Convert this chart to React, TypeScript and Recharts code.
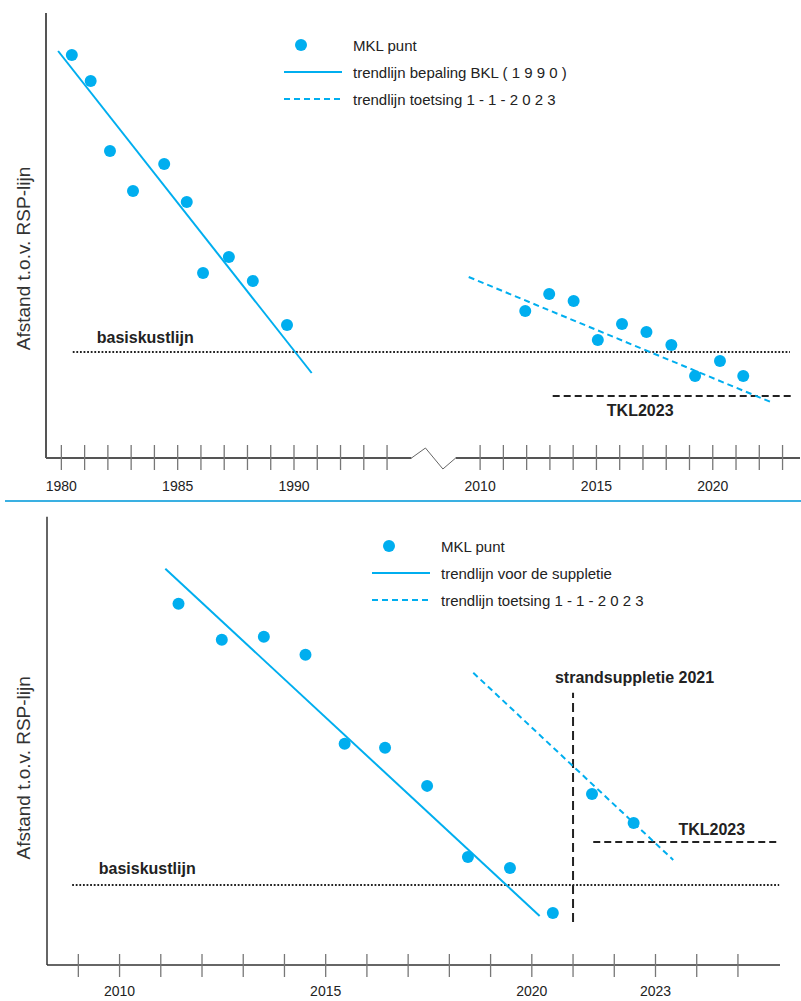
import React from "react";
import {
  ComposedChart,
  Scatter,
  Line,
  XAxis,
  YAxis,
  ReferenceLine,
  Legend,
} from "recharts";

const BLUE = "#00AEEF";
const INK = "#222";
const AXIS = "#555";
const FONT = "'Liberation Sans', Arial, Helvetica, sans-serif";

// ---- upper chart: BKL 1990 + toetsing 2023 (x axis broken between 1994 and 2010)
const topYears = [
  1980.45, 1981.26, 1982.09, 1983.08, 1984.42, 1985.39, 1986.09, 1987.2, 1988.23, 1989.7,
  2011.94, 2012.97, 2014.02, 2015.06, 2016.1, 2017.15, 2018.22, 2019.24, 2020.31, 2021.31,
];
const topDistances = [
  403, 377, 307, 267, 294, 256, 185, 201, 177, 133,
  147, 164, 157, 118, 134, 126, 113, 82, 97, 82,
];
const bklTrendYears = [1979.86, 1990.76];
const bklTrendDistances = [407, 85];
const topTestYears = [2009.51, 2022.49];
const topTestDistances = [181, 56];
const topBasisYears = [1980.49, 2023.32];
const topBasis = 106;
const topTklYears = [2013.12, 2023.35];
const topTkl = 62;
const topTickYears = [
  1980, 1981, 1982, 1983, 1984, 1985, 1986, 1987, 1988, 1989, 1990, 1991, 1992, 1993, 1994,
  2010, 2011, 2012, 2013, 2014, 2015, 2016, 2017, 2018, 2019, 2020, 2021, 2022, 2023,
];
const topLabelYears = [1980, 1985, 1990, 2010, 2015, 2020];
const YEARS_CUT = 12;
// zigzag of the axis break, in plotted years / distance units
const breakMark = [
  { x: 1995.05, y: 0 },
  { x: 1995.65, y: 10 },
  { x: 1996.4, y: -11 },
  { x: 1996.95, y: 0 },
];

// ---- lower chart: trend before the 2021 beach nourishment
const bottomYears = [
  2011.43, 2012.48, 2013.5, 2014.51, 2015.46, 2016.44, 2017.46, 2018.45, 2019.47, 2020.51,
  2021.46, 2022.47,
];
const bottomDistances = [361, 325, 328, 310, 221, 217, 179, 108, 97, 52, 171, 142];
const preTrendYears = [2011.11, 2020.19];
const preTrendDistances = [396, 49];
const bottomTestYears = [2018.58, 2023.43];
const bottomTestDistances = [292, 105];
const bottomBasisYears = [2008.85, 2026.0];
const bottomBasis = 80;
const nourishmentYear = 2021;
const nourishmentRange = [43, 272];
const bottomTklYears = [2021.49, 2026.0];
const bottomTkl = 123;
const bottomTickYears = [
  2009, 2010, 2011, 2012, 2013, 2014, 2015, 2016, 2017, 2018, 2019, 2020, 2021, 2022, 2023,
  2024, 2025,
];
const bottomLabelYears = [2010, 2015, 2020, 2023];

const topLegend = [
  { kind: "dot", label: "MKL punt" },
  { kind: "solid", label: "trendlijn bepaling BKL ( 1 9 9 0 )" },
  { kind: "dashed", label: "trendlijn toetsing 1 - 1 - 2 0 2 3" },
];
const bottomLegend = [
  { kind: "dot", label: "MKL punt" },
  { kind: "solid", label: "trendlijn voor de suppletie" },
  { kind: "dashed", label: "trendlijn toetsing 1 - 1 - 2 0 2 3" },
];

const toTop = (year: number) => (year >= 2000 ? year - YEARS_CUT : year);
const fromTop = (x: number) => Math.round(x >= 1996 ? x + YEARS_CUT : x);
const same = (x: number) => Math.round(x);

const pairs = (xs: number[], ys: number[], fx = (v: number) => v) =>
  xs.map((x, i) => ({ x: fx(x), y: ys[i] }));

const topPoints = pairs(topYears, topDistances, toTop);
const bklTrend = pairs(bklTrendYears, bklTrendDistances, toTop);
const topTest = pairs(topTestYears, topTestDistances, toTop);
const bottomPoints = pairs(bottomYears, bottomDistances);
const preTrend = pairs(preTrendYears, preTrendDistances);
const bottomTest = pairs(bottomTestYears, bottomTestDistances);

const Dot = (p: any) => <circle cx={p.cx} cy={p.cy} r={6} fill={BLUE} />;

const YearTick = ({ x, y, payload, labels, toYear, up, down, gap }: any) => {
  const year = toYear(payload.value);
  return (
    <g>
      <line x1={x} x2={x} y1={y - up} y2={y + down} stroke="#777" strokeWidth={1.3} />
      {labels.includes(year) && (
        <text
          x={x}
          y={y + gap}
          textAnchor="middle"
          dominantBaseline="central"
          fontSize={14}
          fill={INK}
          fontFamily={FONT}
        >
          {year}
        </text>
      )}
    </g>
  );
};

const AxisTitle = ({ viewBox, shift }: any) => {
  const cx = viewBox.x + viewBox.width / 2;
  const cy = viewBox.y + viewBox.height / 2 + shift;
  return (
    <text
      x={cx}
      y={cy}
      transform={`rotate(-90 ${cx} ${cy})`}
      textAnchor="middle"
      dominantBaseline="central"
      fontSize={19}
      fill="#333"
      fontFamily={FONT}
    >
      Afstand t.o.v. RSP-lijn
    </text>
  );
};

const NoteLabel = ({ viewBox, text, dx, dy, anchor = "start" }: any) => (
  <text
    x={viewBox.x + dx}
    y={viewBox.y + dy}
    textAnchor={anchor}
    dominantBaseline="central"
    fontSize={16}
    fontWeight="bold"
    fill={INK}
    fontFamily={FONT}
  >
    {text}
  </text>
);

const LegendBox = ({ items }: { items: { kind: string; label: string }[] }) => (
  <div style={{ fontFamily: FONT, fontSize: 15, color: INK }}>
    {items.map((item) => (
      <div key={item.label} style={{ display: "flex", alignItems: "center", height: 27 }}>
        <svg width={58} height={14}>
          {item.kind === "dot" ? (
            <circle cx={17} cy={7} r={6} fill={BLUE} />
          ) : (
            <line
              x1={0}
              x2={58}
              y1={7}
              y2={7}
              stroke={BLUE}
              strokeWidth={2}
              strokeDasharray={item.kind === "dashed" ? "6 4" : undefined}
            />
          )}
        </svg>
        <span style={{ marginLeft: 11, whiteSpace: "pre" }}>{item.label}</span>
      </div>
    ))}
  </div>
);

const TopChart = () => (
  <ComposedChart width={801} height={500} margin={{ top: 13, right: 1, bottom: 0, left: 0 }}>
    <XAxis
      dataKey="x"
      type="number"
      domain={[1979.34, 2011.75]}
      allowDataOverflow
      ticks={topTickYears.map(toTop)}
      interval={0}
      height={42}
      axisLine={false}
      tickLine={false}
      tickSize={0}
      tickMargin={0}
      tick={<YearTick labels={topLabelYears} toYear={fromTop} up={13} down={12} gap={28} />}
    />
    <YAxis
      type="number"
      domain={[0, 445]}
      allowDataOverflow
      width={46}
      tick={false}
      tickLine={false}
      axisLine={{ stroke: AXIS, strokeWidth: 2 }}
      label={<AxisTitle shift={23} />}
    />
    <ReferenceLine
      segment={[{ x: 1979.34, y: 0 }, breakMark[0]]}
      stroke={AXIS}
      strokeWidth={2}
      ifOverflow="visible"
    />
    <ReferenceLine
      segment={[breakMark[3], { x: 2011.75, y: 0 }]}
      stroke={AXIS}
      strokeWidth={2}
      ifOverflow="visible"
    />
    {breakMark.slice(1).map((p, i) => (
      <ReferenceLine
        key={i}
        segment={[breakMark[i], p]}
        stroke="#666"
        strokeWidth={1}
        ifOverflow="visible"
      />
    ))}
    <ReferenceLine
      segment={[
        { x: toTop(topBasisYears[0]), y: topBasis },
        { x: toTop(topBasisYears[1]), y: topBasis },
      ]}
      stroke={INK}
      strokeWidth={2}
      strokeDasharray="1.8 1.8"
      label={<NoteLabel text="basiskustlijn" dx={24} dy={-15} />}
    />
    <ReferenceLine
      segment={[
        { x: toTop(topTklYears[0]), y: topTkl },
        { x: toTop(topTklYears[1]), y: topTkl },
      ]}
      stroke={INK}
      strokeWidth={2}
      strokeDasharray="7 4"
      label={<NoteLabel text="TKL2023" dx={87.5} dy={14} anchor="middle" />}
    />
    <Line
      data={bklTrend}
      dataKey="y"
      stroke={BLUE}
      strokeWidth={2}
      dot={false}
      activeDot={false}
      isAnimationActive={false}
    />
    <Line
      data={topTest}
      dataKey="y"
      stroke={BLUE}
      strokeWidth={2}
      strokeDasharray="6 4"
      dot={false}
      activeDot={false}
      isAnimationActive={false}
    />
    <Scatter data={topPoints} dataKey="y" shape={Dot} isAnimationActive={false} />
    <Legend
      layout="vertical"
      align="center"
      verticalAlign="middle"
      wrapperStyle={{ left: 284, top: 31.5, width: 330 }}
      content={() => <LegendBox items={topLegend} />}
    />
  </ComposedChart>
);

const BottomChart = () => (
  <ComposedChart width={801} height={499} margin={{ top: 14.7, right: 21, bottom: 0, left: 0 }}>
    <XAxis
      dataKey="x"
      type="number"
      domain={[2008.24, 2026.02]}
      allowDataOverflow
      ticks={bottomTickYears}
      interval={0}
      height={36}
      axisLine={{ stroke: "#333", strokeWidth: 1.5 }}
      tickLine={false}
      tickSize={0}
      tickMargin={0}
      tick={<YearTick labels={bottomLabelYears} toYear={same} up={11} down={12} gap={26} />}
    />
    <YAxis
      type="number"
      domain={[0, 448]}
      allowDataOverflow
      width={47}
      tick={false}
      tickLine={false}
      axisLine={{ stroke: "#333", strokeWidth: 1.5 }}
      label={<AxisTitle shift={27} />}
    />
    <ReferenceLine
      segment={[
        { x: bottomBasisYears[0], y: bottomBasis },
        { x: bottomBasisYears[1], y: bottomBasis },
      ]}
      stroke={INK}
      strokeWidth={2}
      strokeDasharray="1.8 1.8"
      label={<NoteLabel text="basiskustlijn" dx={26.6} dy={-16.7} />}
    />
    <ReferenceLine
      segment={[
        { x: nourishmentYear, y: nourishmentRange[0] },
        { x: nourishmentYear, y: nourishmentRange[1] },
      ]}
      stroke={INK}
      strokeWidth={2}
      strokeDasharray="9 5"
      label={<NoteLabel text="strandsuppletie 2021" dx={61.5} dy={-15.6} anchor="middle" />}
    />
    <ReferenceLine
      segment={[
        { x: bottomTklYears[0], y: bottomTkl },
        { x: bottomTklYears[1], y: bottomTkl },
      ]}
      stroke={INK}
      strokeWidth={2}
      strokeDasharray="7 4"
      label={<NoteLabel text="TKL2023" dx={118.5} dy={-12.3} anchor="middle" />}
    />
    <Line
      data={preTrend}
      dataKey="y"
      stroke={BLUE}
      strokeWidth={2}
      dot={false}
      activeDot={false}
      isAnimationActive={false}
    />
    <Line
      data={bottomTest}
      dataKey="y"
      stroke={BLUE}
      strokeWidth={2}
      strokeDasharray="6 4"
      dot={false}
      activeDot={false}
      isAnimationActive={false}
    />
    <Scatter data={bottomPoints} dataKey="y" shape={Dot} isAnimationActive={false} />
    <Legend
      layout="vertical"
      align="center"
      verticalAlign="middle"
      wrapperStyle={{ left: 372, top: 30.5, width: 330 }}
      content={() => <LegendBox items={bottomLegend} />}
    />
  </ComposedChart>
);

export default function App() {
  return (
    <div
      style={{
        position: "absolute",
        left: 0,
        top: 0,
        width: 801,
        height: 1001,
        overflow: "hidden",
        background: "#fff",
      }}
    >
      <div style={{ position: "absolute", left: 0, top: 0 }}>
        <TopChart />
      </div>
      <div
        style={{
          position: "absolute",
          left: 5,
          top: 500,
          width: 796,
          height: 2,
          background: "#3AB0E2",
        }}
      />
      <div style={{ position: "absolute", left: 0, top: 502 }}>
        <BottomChart />
      </div>
    </div>
  );
}
